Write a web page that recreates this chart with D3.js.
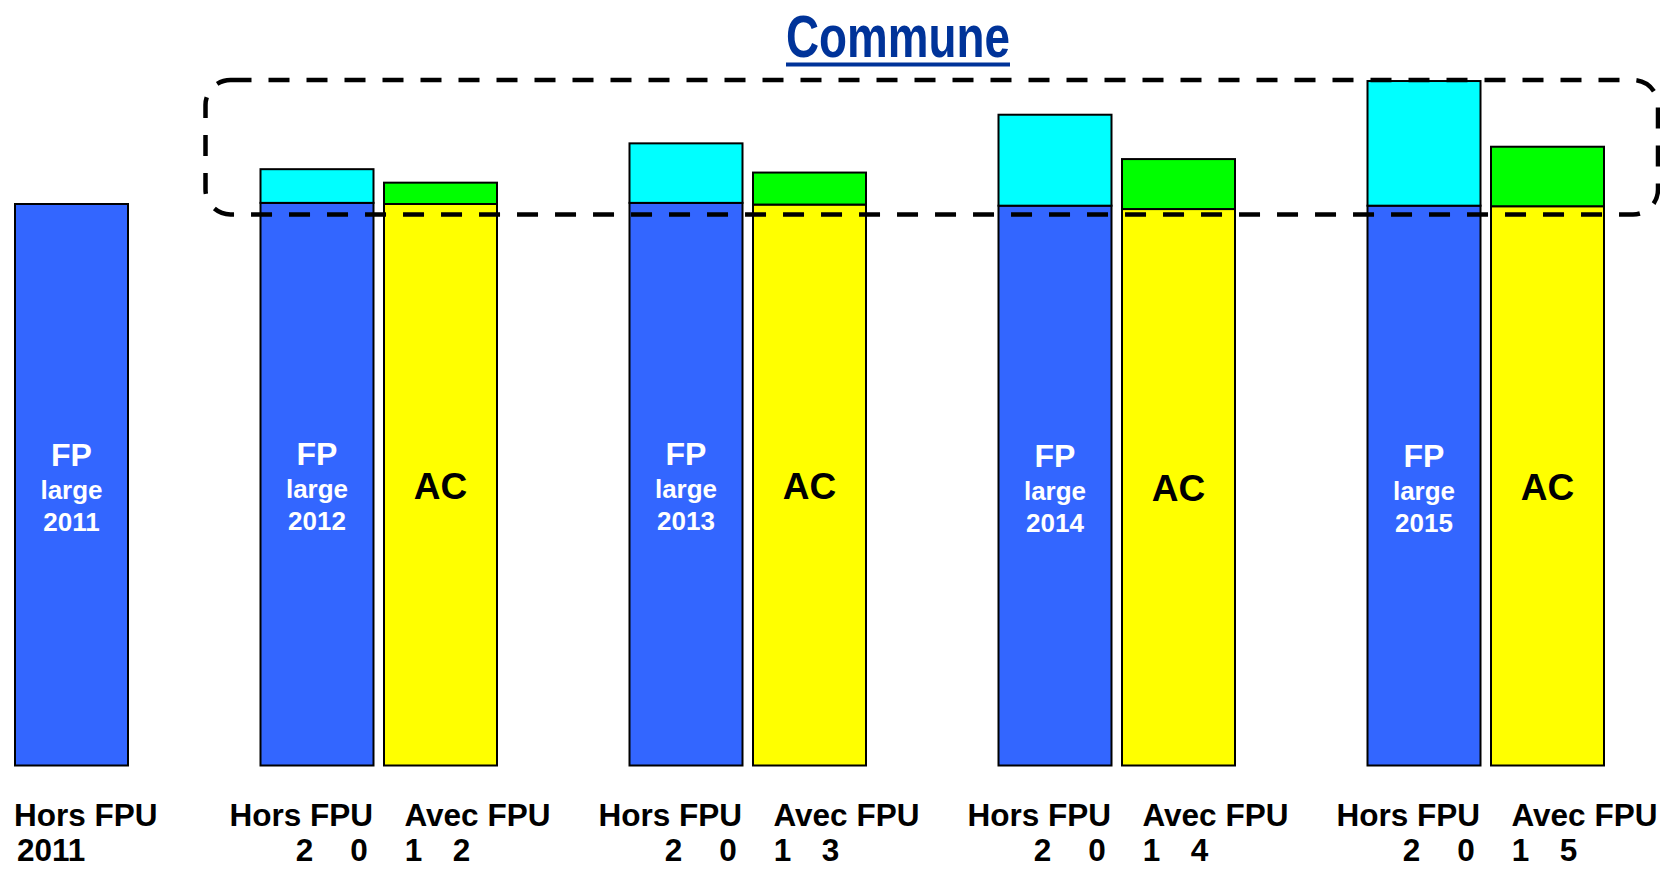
<!DOCTYPE html>
<html>
<head>
<meta charset="utf-8">
<script src="https://cdn.jsdelivr.net/npm/d3@7"></script>
<style>
  html, body { margin: 0; padding: 0; background: #fff; }
  svg { display: block; }
</style>
</head>
<body>
<script>
// Budget comparison: "Hors FPU" (FP large + extra) vs "Avec FPU" (AC + extra)
const years = ["2011", "2012", "2013", "2014", "2015"];
const fpLarge = [100, 100.2, 100.2, 99.7, 99.7];      // blue base, Hors FPU
const fpExtra = [0, 6.0, 10.6, 16.2, 22.2];           // cyan top, Hors FPU
const acBase = [null, 100.0, 99.9, 99.1, 99.6];       // yellow base, Avec FPU
const acExtra = [null, 3.8, 5.7, 8.9, 10.6];          // green top, Avec FPU
const seriesLabels = ["Hors FPU", "Avec FPU"];
const fpLines = ["FP", "large"];
const acLabel = "AC";
const titleText = "Commune";

const W = 1660, H = 869;
const colors = { fp: "#3366ff", fpExtra: "#00ffff", ac: "#ffff00", acExtra: "#00ff00" };

const svg = d3.select("body").append("svg")
  .attr("width", W).attr("height", H)
  .style("font-family", "'Liberation Sans', Arial, sans-serif");

const y = d3.scaleLinear().domain([0, 100]).range([765.5, 204]);

// horizontal layout: groups of one or two bars
const barW = 113, innerGap = 10.5, groupGap = 132.5, x0 = 15;
const groups = [];
let cursor = x0;
years.forEach((yr, i) => {
  const bars = [{ kind: "fp", base: fpLarge[i], extra: fpExtra[i], year: yr }];
  if (acBase[i] != null) bars.push({ kind: "ac", base: acBase[i], extra: acExtra[i], year: yr });
  bars.forEach((b, j) => { b.x = cursor + j * (barW + innerGap); });
  groups.push({ year: yr, left: cursor, bars });
  cursor += bars.length * barW + (bars.length - 1) * innerGap + groupGap;
});
const allBars = groups.flatMap(g => g.bars);

const gBars = svg.append("g");
// base segments
gBars.selectAll("rect.base").data(allBars).join("rect")
  .attr("class", "base")
  .attr("x", d => d.x).attr("width", barW)
  .attr("y", d => y(d.base)).attr("height", d => y(0) - y(d.base))
  .attr("fill", d => d.kind === "fp" ? colors.fp : colors.ac)
  .attr("stroke", "#000").attr("stroke-width", 2);
// extra segments stacked on top
gBars.selectAll("rect.extra").data(allBars.filter(d => d.extra > 0)).join("rect")
  .attr("class", "extra")
  .attr("x", d => d.x).attr("width", barW)
  .attr("y", d => y(d.base + d.extra)).attr("height", d => y(d.base) - y(d.base + d.extra))
  .attr("fill", d => d.kind === "fp" ? colors.fpExtra : colors.acExtra)
  .attr("stroke", "#000").attr("stroke-width", 2);

// labels inside the base segments
const gIn = svg.append("g").attr("text-anchor", "middle").attr("font-weight", "bold");
allBars.forEach(d => {
  const cx = d.x + barW / 2;
  const mid = (y(d.base) + y(0)) / 2;
  if (d.kind === "fp") {
    const lines = [fpLines[0], fpLines[1], d.year];
    const sizes = [32, 26, 26];
    const offs = [-19, 14, 46];
    lines.forEach((t, k) => {
      gIn.append("text").attr("x", cx).attr("y", mid + offs[k])
        .attr("font-size", sizes[k]).attr("fill", "#fff").text(t);
    });
  } else {
    gIn.append("text").attr("x", cx).attr("y", mid + 14)
      .attr("font-size", 37).attr("fill", "#000").text(acLabel);
  }
});

// category labels under the bars
const gAx = svg.append("g").attr("font-weight", "bold").attr("font-size", 31.5).attr("fill", "#000");
const line1 = 826, line2 = 861;
groups.forEach((g, i) => {
  if (g.bars.length === 1) {
    gAx.append("text").attr("x", g.left - 1).attr("y", line1).text(seriesLabels[0]);
    gAx.append("text").attr("x", g.left + 2).attr("y", line2).text(g.year);
  } else {
    gAx.append("text").attr("x", g.left - 31).attr("y", line1).text(seriesLabels[0]);
    gAx.append("text").attr("x", g.left + 144).attr("y", line1).text(seriesLabels[1]);
    const offs = [44, 98.5, 153, 201];
    g.year.split("").forEach((c, k) => {
      gAx.append("text").attr("x", g.left + offs[k]).attr("y", line2)
        .attr("text-anchor", "middle").text(c);
    });
  }
});

// dashed rounded frame around the tops of the 2012–2015 bars
const frameLeft = groups[1].left - 55;
svg.append("rect")
  .attr("x", frameLeft).attr("y", 80)
  .attr("width", 1658 - frameLeft).attr("height", 134.5)
  .attr("rx", 25).attr("ry", 25)
  .attr("fill", "none").attr("stroke", "#000")
  .attr("stroke-width", 4.5).attr("stroke-dasharray", "21 17");

// title
svg.append("text")
  .attr("x", 786).attr("y", 57)
  .attr("font-family", "'Liberation Sans', Arial, sans-serif").attr("font-weight", "bold")
  .attr("font-size", 60).attr("fill", "#003399")
  .attr("textLength", 224).attr("lengthAdjust", "spacingAndGlyphs")
  .text(titleText);
svg.append("rect")
  .attr("x", 786).attr("y", 62.5).attr("width", 224).attr("height", 4)
  .attr("fill", "#003399");
</script>
</body>
</html>
